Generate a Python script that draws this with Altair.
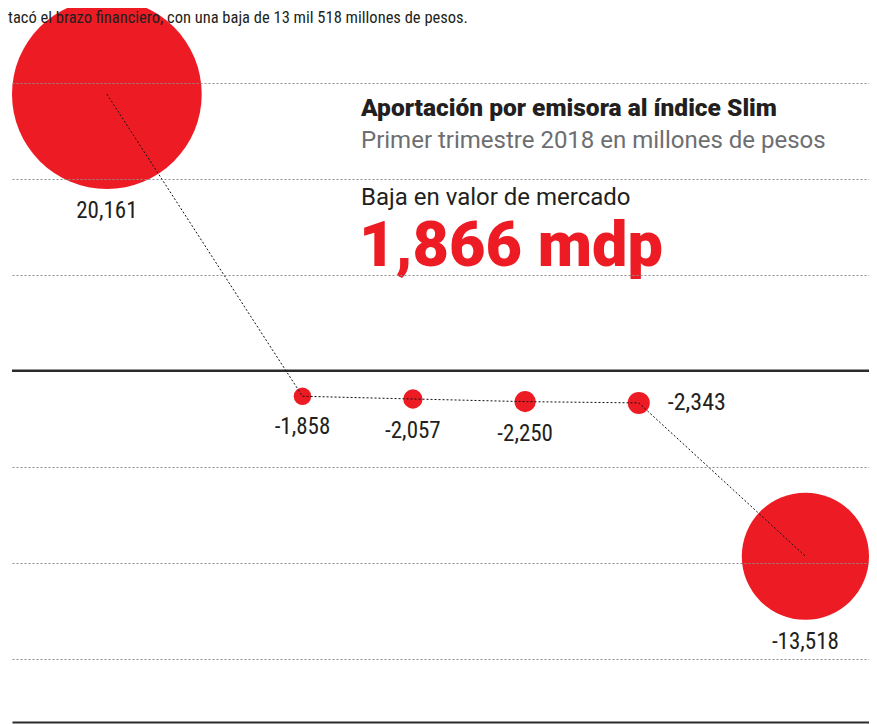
import altair as alt
import pandas as pd
import numpy as np

# ---- data ----
values = [20161, -1858, -2057, -2250, -2343, -13518]
labels = ["20,161", "-1,858", "-2,057", "-2,250", "-2,343", "-13,518"]
label_side = ["below", "below", "below", "below", "right", "below"]
gridlines = [-21000, -14000, -7000, 7000, 14000, 21000]
y_domain = [-25600, 26440]

lead_text = "tacó el brazo financiero, con una baja de 13 mil 518 millones de pesos."
title_text = "Aportación por emisora al índice Slim"
subtitle_text = "Primer trimestre 2018 en millones de pesos"
kpi_label = "Baja en valor de mercado"
kpi_value = "1,866 mdp"

# ---- layout / style ----
W, H = 857, 714
GAP_PX = 92          # constant gap between circle edges
RED = "#ED1C24"
INK = "#231F20"
GRAY = "#6D6E71"
NARROW = "Liberation Sans Narrow, Roboto Condensed, Arial Narrow, sans-serif"
SANS = "Roboto, Liberation Sans, sans-serif"

n = len(values)
abs_v = np.abs(np.array(values, dtype=float))
k = (W - GAP_PX * (n - 1)) / (2 * abs_v.sum())        # px per value unit (radius)
gap_u = GAP_PX / k
x_center = np.cumsum(2 * abs_v) - abs_v + gap_u * np.arange(n)
x_domain = [0, W / k]
ky = H / (y_domain[1] - y_domain[0])

pad_below = 11
pad_right = 18
lab_x, lab_y = [], []
for xc, v, a, side in zip(x_center, values, abs_v, label_side):
    if side == "below":
        lab_x.append(xc)
        lab_y.append(v - (a * k + pad_below) / ky)
    else:
        lab_x.append(xc + a + pad_right / k)
        lab_y.append(v)

df = pd.DataFrame({
    "i": np.arange(n),
    "x": x_center,
    "value": values,
    "absval": abs_v,
    "label": labels,
    "side": label_side,
    "lx": lab_x,
    "ly": lab_y,
})

xs = alt.Scale(domain=x_domain, nice=False, zero=False)
ys = alt.Scale(domain=y_domain, nice=False, zero=False)
size_scale = alt.Scale(type="pow", exponent=2, domain=[0, float(abs_v.max())],
                       range=[0, float((2 * abs_v.max() * k) ** 2)])

base = alt.Chart(df)

circles = base.mark_circle(color=RED, opacity=1).encode(
    x=alt.X("x:Q", scale=xs, axis=alt.Axis(title=None, labels=False, ticks=False, grid=False,
                                            domain=True, domainColor="#2b2b2b", domainWidth=2)),
    y=alt.Y("value:Q", scale=ys, axis=alt.Axis(title=None, labels=False, ticks=False, domain=False,
                                                grid=True, values=gridlines, gridDash=[2, 2],
                                                gridColor="#8f8f8f", gridWidth=1, zindex=1)),
    size=alt.Size("absval:Q", scale=size_scale, legend=None),
)

path = base.mark_line(color="#111111", strokeWidth=1, strokeDash=[2, 2]).encode(
    x=alt.X("x:Q", scale=xs),
    y=alt.Y("value:Q", scale=ys),
    order="i:Q",
)

zero = alt.Chart(pd.DataFrame({"z": [0]})).mark_rule(color="#2b2b2b", strokeWidth=2.5).encode(
    y=alt.Y("z:Q", scale=ys),
)

below_labels = base.transform_filter(alt.datum.side == "below").mark_text(
    font=NARROW, fontSize=23, color=INK, align="center", baseline="top"
).encode(x=alt.X("lx:Q", scale=xs), y=alt.Y("ly:Q", scale=ys), text="label:N")

right_labels = base.transform_filter(alt.datum.side == "right").mark_text(
    font=NARROW, fontSize=24, color=INK, align="left", baseline="middle"
).encode(x=alt.X("lx:Q", scale=xs), y=alt.Y("ly:Q", scale=ys), text="label:N")


def note(text, x, y, **kw):
    return alt.Chart(pd.DataFrame({"t": [text]})).mark_text(
        align="left", baseline="alphabetic", **kw
    ).encode(x=alt.value(x), y=alt.value(y), text="t:N")


lead = note(lead_text, -4, 15, font=NARROW, fontSize=16.5, color=INK)
title = note(title_text, 349, 108, font=SANS, fontSize=24.5, fontWeight=900, color=INK)
subtitle = note(subtitle_text, 349, 140, font=SANS, fontSize=24, color=GRAY)
kpi_l = note(kpi_label, 349, 197, font=SANS, fontSize=24, color=INK)
kpi_v = note(kpi_value, 347, 258, font=SANS, fontSize=63, fontWeight=900, color=RED)

chart = alt.layer(
    zero, circles, path, below_labels, right_labels, lead, title, subtitle, kpi_l, kpi_v
).properties(
    width=W, height=H,
    autosize=alt.AutoSizeParams(type="none"),
    padding={"left": 4, "top": 0, "right": 0, "bottom": 2},
).configure_view(stroke=None)

chart.save("out.html", embed_options={"renderer": "svg", "actions": False})
